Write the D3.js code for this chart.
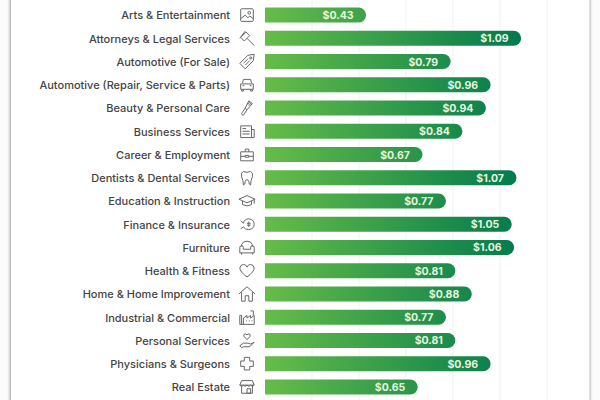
<!DOCTYPE html>
<html>
<head>
<meta charset="utf-8">
<script src="https://cdnjs.cloudflare.com/ajax/libs/d3/7.8.5/d3.min.js"></script>
<style>
  html, body { margin: 0; padding: 0; background: #fff; }
  svg { display: block; }
  text { font-family: "Inter", "Noto Sans", sans-serif; }
</style>
</head>
<body>
<div id="chart"></div>
<script>
var categories = [
  "Arts & Entertainment", "Attorneys & Legal Services", "Automotive (For Sale)",
  "Automotive (Repair, Service & Parts)", "Beauty & Personal Care", "Business Services",
  "Career & Employment", "Dentists & Dental Services", "Education & Instruction",
  "Finance & Insurance", "Furniture", "Health & Fitness", "Home & Home Improvement",
  "Industrial & Commercial", "Personal Services", "Physicians & Surgeons", "Real Estate"
];
var values = [0.43, 1.09, 0.79, 0.96, 0.94, 0.84, 0.67, 1.07, 0.77, 1.05, 1.06, 0.81, 0.88, 0.77, 0.81, 0.96, 0.65];
var gridTicks = [0.2, 0.4, 0.6, 0.8, 1.0, 1.2];

// outline icons, one per category, drawn in a 20x20 box
var icons = [
  "M4 3H16Q17 3 17 4V16Q17 17 16 17H4Q3 17 3 16V4Q3 3 4 3ZM3 14L8 10L11 13L13 11L17 14M11 7.5a1.5 1.5 0 1 0 3 0a1.5 1.5 0 1 0 -3 0",
  "M3 9L9 3L13 7L7 13ZM10 10L18 18M2 10L8 2",
  "M2 12L11 3L18 2L17 9L8 18ZM13 6a1.2 1.2 0 1 0 2.4 0a1.2 1.2 0 1 0 -2.4 0M6 12L11 7M8 14L13 9",
  "M5 8L6 4H14L15 8M3 9H17V15H3ZM4 15V17H6V15M14 15V17H16V15M5 11H7M13 11H15",
  "M12 2L16 5L10 12L8 10ZM13 3.5L11 6M14.5 4.5L12 7.5M8 10L4 16Q4 18 6 18L10 12",
  "M3 4H15V17H3ZM15 8H18V17H15M5 7H9M5 10H13M5 13H13",
  "M3 7H17V17H3ZM8 7V4H12V7M3 12H8M12 12H17M8 11H12V13H8Z",
  "M6 3Q10 5 14 3Q17 4 16 9Q14 13 14 18Q12 18 12 14Q10 10 8 14Q8 18 6 18Q6 13 4 9Q3 4 6 3Z",
  "M1 8L10 4L19 8L10 12ZM5 10V14Q10 17 15 14V10M18 8V13",
  "M3 6L6 9Q7 4 12 4Q18 5 18 10Q18 15 12 16Q8 16 6 13L3 15M12 7V13M10 9H14M10 11H14",
  "M4 9V7Q5 3 10 3Q15 3 16 7V9M2 10a2 2 0 0 1 4 0V12H14V10a2 2 0 0 1 4 0V16H2ZM4 16V18M16 16V18",
  "M10 17Q2 11 2 7Q3 3 6 3Q9 3 10 6Q11 3 14 3Q17 3 18 7Q18 11 10 17Z",
  "M1 10L10 2L19 10M4 8V18H8V12H12V18H16V8",
  "M2 18V8H4V18M2 18H18V8L14 11V8L10 11V8L6 11V18M9 14H10M12 14H13M15 14H16M14 3H17V8",
  "M10 9Q5 5 7 3Q9 2 10 4Q11 2 13 3Q15 5 10 9ZM2 16L6 13H11L14 14L18 12L13 17H6L4 18Z",
  "M7 3H13V7H17V13H13V17H7V13H3V7H7Z",
  "M4 3H16L18 8H2ZM4 8V17H16V8M2 8Q4 11 6 8Q8 11 10 8Q12 11 14 8Q16 11 18 8M10 12H14V17H10Z"
];

var width = 600, height = 400;
var x0 = 265;

var x = d3.scaleLinear().domain([0, 1.2]).range([x0, x0 + 282]);
var y = d3.scaleBand().domain(categories).range([3.4, 398.6]).paddingInner(0.355).paddingOuter(0.18);

var svg = d3.select("#chart").append("svg")
  .attr("width", width)
  .attr("height", height);

var defs = svg.append("defs");
var blur = defs.append("filter").attr("id", "edge").attr("x", "-50%").attr("width", "200%");
blur.append("feGaussianBlur").attr("stdDeviation", 1.6);

// one gradient per bar so that the dark end always sits at the tip
values.forEach(function(v, i) {
  var g = defs.append("linearGradient")
    .attr("id", "bar" + i)
    .attr("gradientUnits", "userSpaceOnUse")
    .attr("x1", x0).attr("x2", x(1.09)).attr("y1", 0).attr("y2", 0);
  g.append("stop").attr("offset", 0).attr("stop-color", "#66bc48");
  g.append("stop").attr("offset", 1).attr("stop-color", "#007a4d");
});

// the card's grey side shadows
svg.append("rect").attr("x", 0).attr("y", 0).attr("width", width).attr("height", height).attr("fill", "#fbfbfb");
svg.append("rect").attr("x", 10).attr("y", -10).attr("width", 580).attr("height", height + 20)
  .attr("fill", "#9a9a9a").attr("filter", "url(#edge)");
svg.append("rect").attr("x", 11).attr("y", -10).attr("width", 578.5).attr("height", height + 20).attr("fill", "#fff");

svg.selectAll(".grid")
  .data(gridTicks)
  .enter().append("line")
  .attr("class", "grid")
  .attr("x1", function(d) { return x(d); })
  .attr("x2", function(d) { return x(d); })
  .attr("y1", 0)
  .attr("y2", height)
  .attr("stroke", "#f1f1f1")
  .attr("stroke-width", 1);

svg.selectAll(".bar")
  .data(values)
  .enter().append("path")
  .attr("class", "bar")
  .attr("fill", function(d, i) { return "url(#bar" + i + ")"; })
  .attr("d", function(d, i) {
    var top = y(categories[i]), h = y.bandwidth(), r = h / 2, right = x(d);
    return "M" + x0 + "," + top + "H" + (right - r) +
      "A" + r + "," + r + " 0 0 1 " + (right - r) + "," + (top + h) +
      "H" + x0 + "Z";
  });

svg.selectAll(".value")
  .data(values)
  .enter().append("text")
  .attr("class", "value")
  .attr("x", function(d) { return x(d) - 12.5; })
  .attr("y", function(d, i) { return y(categories[i]) + y.bandwidth() / 2; })
  .attr("dy", "0.38em")
  .attr("text-anchor", "end")
  .attr("fill", "#e8f5e0")
  .attr("font-size", 10.5)
  .attr("font-weight", 700)
  .text(function(d) { return "$" + d.toFixed(2); });

svg.selectAll(".label")
  .data(categories)
  .enter().append("text")
  .attr("class", "label")
  .attr("x", 230)
  .attr("y", function(d) { return y(d) + y.bandwidth() / 2; })
  .attr("dy", "0.4em")
  .attr("text-anchor", "end")
  .attr("fill", "#444")
  .attr("font-size", 11)
  .attr("font-weight", 500)
  .text(function(d) { return d; });

svg.selectAll(".icon")
  .data(icons)
  .enter().append("path")
  .attr("class", "icon")
  .attr("d", function(d) { return d; })
  .attr("transform", function(d, i) {
    return "translate(238," + (y(categories[i]) + y.bandwidth() / 2 - 9) + ") scale(0.9)";
  })
  .attr("fill", "none")
  .attr("stroke", "#666")
  .attr("stroke-width", 1.1)
  .attr("stroke-linejoin", "round");
</script>
</body>
</html>
